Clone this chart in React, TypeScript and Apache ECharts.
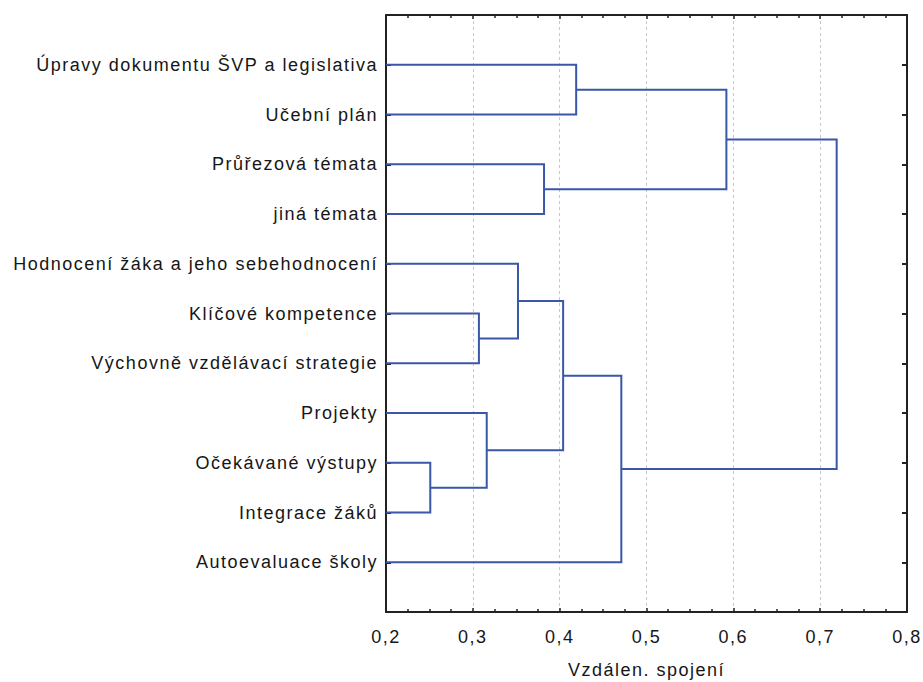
import React, { useEffect, useRef } from "react";
import * as echarts from "echarts";

const leafLabels = [
  "Úpravy dokumentu ŠVP a legislativa",
  "Učební plán",
  "Průřezová témata",
  "jiná témata",
  "Hodnocení žáka a jeho sebehodnocení",
  "Klíčové kompetence",
  "Výchovně vzdělávací strategie",
  "Projekty",
  "Očekávané výstupy",
  "Integrace žáků",
  "Autoevaluace školy",
];

// merges: node ids 0..10 are leaves, each merge creates node 11, 12, ...
const mergeLeft = [0, 2, 11, 5, 4, 8, 7, 15, 18, 13];
const mergeRight = [1, 3, 12, 6, 14, 9, 16, 17, 10, 19];
const mergeHeight = [0.419, 0.382, 0.592, 0.307, 0.352, 0.251, 0.316, 0.404, 0.471, 0.719];

const xTicks = [0.2, 0.3, 0.4, 0.5, 0.6, 0.7, 0.8];
const axisName = "Vzdálen. spojení";

const FONT = "Liberation Sans, Arial, sans-serif";
const LINE = "#3a57a8";
const AXIS = "#222222";
const TEXT = "#161616";

function buildLinks() {
  const nx: number[] = [];
  const ny: number[] = [];
  leafLabels.forEach((_, i) => {
    nx.push(xTicks[0]);
    ny.push(i);
  });
  const links: number[][] = [];
  mergeHeight.forEach((h, k) => {
    const a = mergeLeft[k];
    const b = mergeRight[k];
    links.push([nx[a], ny[a], h, ny[b], nx[b]]);
    nx.push(h);
    ny.push((ny[a] + ny[b]) / 2);
  });
  return links;
}

export default function App() {
  const ref = useRef<HTMLDivElement>(null);
  useEffect(() => {
    if (!ref.current) return;
    const chart = echarts.init(ref.current, undefined, { renderer: "svg", width: 923, height: 682 });
    const links = buildLinks();
    const fmtX = (v: number) => v.toFixed(1).replace(".", ",");
    const baseX = {
      type: "value" as const,
      min: xTicks[0],
      max: xTicks[xTicks.length - 1],
      interval: 0.1,
      axisLine: { show: true, onZero: false, lineStyle: { color: AXIS, width: 2 } },
      axisTick: { show: true, inside: true, length: 4, lineStyle: { color: AXIS, width: 1.5 } },
      minorTick: { show: true, splitNumber: 4, length: 3, lineStyle: { color: AXIS, width: 1.5 } },
    };
    const baseY = {
      type: "value" as const,
      inverse: true,
      min: -1,
      max: 11,
      interval: 1,
      axisLine: { show: true, onZero: false, lineStyle: { color: AXIS, width: 2 } },
      axisTick: { show: true, inside: true, length: 5, lineStyle: { color: AXIS, width: 2 } },
      splitLine: { show: false },
    };
    chart.setOption({
      animation: false,
      backgroundColor: "#ffffff",
      grid: {
        left: 386,
        width: 521,
        top: 15,
        height: 597,
        containLabel: false,
        outerBoundsMode: "none",
      },
      xAxis: [
        {
          ...baseX,
          position: "bottom",
          name: axisName,
          nameLocation: "middle",
          nameGap: 49,
          nameTextStyle: { fontFamily: FONT, fontSize: 18, color: TEXT },
          axisLabel: { formatter: fmtX, margin: 16, fontFamily: FONT, fontSize: 18, color: TEXT },
          splitLine: { show: true, lineStyle: { color: "#c8c8c8", type: [3, 3], width: 1 } },
        },
        {
          ...baseX,
          position: "top",
          axisLabel: { show: false },
          splitLine: { show: false },
        },
      ],
      yAxis: [
        {
          ...baseY,
          position: "left",
          axisLabel: {
            margin: 8,
            fontFamily: FONT,
            fontSize: 18,
            color: TEXT,
            formatter: (v: number) => (v >= 0 && v < leafLabels.length ? leafLabels[v] : ""),
          },
        },
        {
          ...baseY,
          position: "right",
          axisLabel: { show: false },
        },
      ],
      series: [
        {
          type: "custom",
          xAxisIndex: 0,
          yAxisIndex: 0,
          clip: false,
          encode: { x: [0, 2, 4], y: [1, 3] },
          data: links,
          renderItem: (params: any, api: any) => {
            const p1 = api.coord([api.value(0), api.value(1)]);
            const p2 = api.coord([api.value(2), api.value(1)]);
            const p3 = api.coord([api.value(2), api.value(3)]);
            const p4 = api.coord([api.value(4), api.value(3)]);
            return {
              type: "polyline",
              shape: { points: [p1, p2, p3, p4] },
              style: { stroke: LINE, lineWidth: 2, fill: null },
            };
          },
        },
      ],
    });
    return () => chart.dispose();
  }, []);
  return (
    <div
      ref={ref}
      style={{ position: "fixed", left: 0, top: 0, width: 923, height: 682, letterSpacing: "1.5px", overflow: "hidden" }}
    />
  );
}
